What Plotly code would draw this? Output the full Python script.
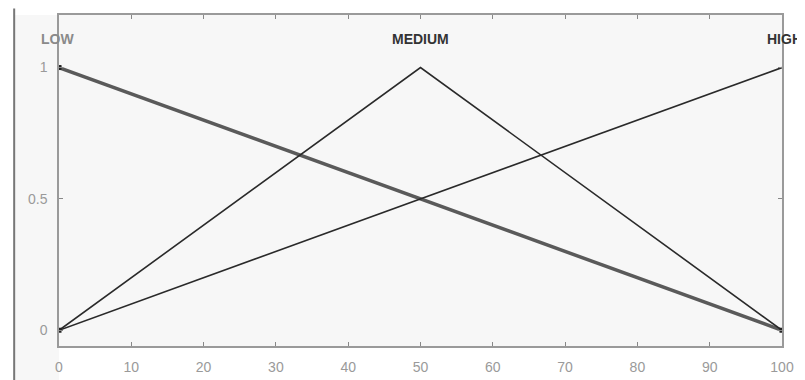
import plotly.graph_objects as go

x_low = [0, 100]
y_low = [1, 0]
x_med = [0, 50, 100]
y_med = [0, 1, 0]
x_high = [0, 100]
y_high = [0, 1]
x_ticks = [0, 10, 20, 30, 40, 50, 60, 70, 80, 90, 100]
y_ticks = [0, 0.5, 1]
y_ticklabels = ["0", "0.5", "1"]
labels = ["LOW", "MEDIUM", "HIGH"]
label_x = [0, 50, 100]

fig = go.Figure()
fig.add_trace(go.Scatter(x=x_low, y=y_low, mode="lines",
                         line=dict(color="#5a5a5a", width=3.5), showlegend=False))
fig.add_trace(go.Scatter(x=x_med, y=y_med, mode="lines",
                         line=dict(color="#2a2a2a", width=1.6), showlegend=False))
fig.add_trace(go.Scatter(x=x_high, y=y_high, mode="lines",
                         line=dict(color="#2a2a2a", width=1.6), showlegend=False))
fig.add_trace(go.Scatter(x=[x_low[0], x_med[0], x_med[-1]], y=[y_low[0], y_med[0], y_med[-1]],
                         mode="markers", marker=dict(symbol="square", size=5, color="#222"),
                         showlegend=False))

label_colors = ["#8a8a8a", "#333333", "#333333"]
label_shift = [-2, 0, 2]
for lx, lt, lc, ls in zip(label_x, labels, label_colors, label_shift):
    fig.add_annotation(x=lx, y=1.107, text="<b>" + lt + "</b>", showarrow=False,
                       font=dict(family="Liberation Sans Narrow, Liberation Sans", size=14, color=lc),
                       xanchor="center", yanchor="middle", xshift=ls)

fig.add_shape(type="rect", xref="paper", yref="paper", x0=-0.062, x1=0, y0=-0.2, y1=1.0,
              fillcolor="#f7f7f7", line=dict(width=0), layer="below")
fig.add_shape(type="line", xref="paper", yref="paper", x0=-0.062, x1=-0.062, y0=-0.2, y1=1.02,
              line=dict(color="#777", width=2))

axis_common = dict(showgrid=False, zeroline=False, showline=True, linecolor="#9a9a9a",
                   linewidth=1.5, mirror="ticks", ticks="inside", ticklen=4,
                   tickcolor="#888", automargin=False,
                   tickfont=dict(family="Liberation Sans", size=14, color="#9a9a9a"))

fig.update_xaxes(range=[0, 100], tickvals=x_ticks, ticklabelstandoff=7, **axis_common)
fig.update_yaxes(range=[-0.06, 1.2], tickvals=y_ticks, ticktext=y_ticklabels,
                 ticklabelstandoff=7, **axis_common)

fig.update_layout(width=797, height=372,
                  margin=dict(l=51, r=23, t=7, b=34, autoexpand=False),
                  paper_bgcolor="white", plot_bgcolor="#f7f7f7")

fig.write_html("out.html")
